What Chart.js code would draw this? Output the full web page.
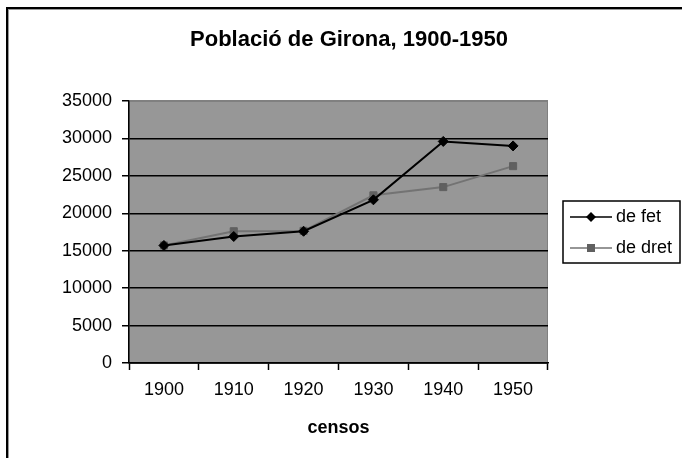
<!DOCTYPE html>
<html lang="ca">
<head>
<meta charset="UTF-8">
<title>Població de Girona, 1900-1950</title>
<style>
  body { margin: 0; background: #fff; }
  .frame {
    position: absolute; left: 0; top: 0; width: 682px; height: 458px;
  }
  .edge {
    position: absolute; left: 6px; top: 7px; right: 0; bottom: 0;
    border-left: 2px solid #000; border-top: 2px solid #000;
    box-shadow: inset 1px 1px 0 #999;
    pointer-events: none;
  }
</style>
</head>
<body>
<div class="frame">
  <canvas id="chart" width="682" height="458"></canvas>
  <div class="edge"></div>
</div>
<script src="https://cdn.jsdelivr.net/npm/chart.js"></script>
<script>
// census years and population
const years = ['1900', '1910', '1920', '1930', '1940', '1950'];
const deFet = [15700, 16900, 17600, 21800, 29600, 29000];
const deDret = [15700, 17600, 17650, 22400, 23500, 26300];
const seriesNames = ['de fet', 'de dret'];
const chartTitle = 'Població de Girona, 1900-1950';
const yMax = 35000;

const FONT = 'Arial, "Liberation Sans", sans-serif';

// title centred on the whole frame, not just the plot
const frameTitle = {
  id: 'frameTitle',
  afterDraw(chart) {
    const ctx = chart.ctx;
    ctx.save();
    ctx.font = 'bold 22px ' + FONT;
    ctx.fillStyle = '#000';
    ctx.textAlign = 'center';
    ctx.textBaseline = 'middle';
    ctx.fillText(chartTitle, 349, 40);
    ctx.restore();
  }
};

// boxed legend on the right, like the old spreadsheet chart
const boxLegend = {
  id: 'boxLegend',
  afterDraw(chart) {
    const ctx = chart.ctx;
    const x = 563, y = 201, w = 117, h = 62;
    ctx.save();
    ctx.strokeStyle = '#000';
    ctx.lineWidth = 1.5;
    ctx.strokeRect(x, y, w, h);
    ctx.font = '18px ' + FONT;
    ctx.textBaseline = 'middle';
    chart.data.datasets.forEach((ds, i) => {
      const cy = y + 16 + i * 31;
      ctx.strokeStyle = ds.borderColor;
      ctx.lineWidth = 1.5;
      ctx.beginPath();
      ctx.moveTo(x + 7, cy);
      ctx.lineTo(x + 49, cy);
      ctx.stroke();
      ctx.fillStyle = ds.pointBackgroundColor;
      ctx.beginPath();
      if (ds.pointStyle === 'rectRot') {
        ctx.moveTo(x + 28, cy - 5);
        ctx.lineTo(x + 33, cy);
        ctx.lineTo(x + 28, cy + 5);
        ctx.lineTo(x + 23, cy);
        ctx.closePath();
      } else {
        ctx.rect(x + 24, cy - 4, 8, 8);
      }
      ctx.fill();
      ctx.fillStyle = '#000';
      ctx.fillText(ds.label, x + 53, cy);
    });
    ctx.restore();
  }
};

// gray plot background
const plotBg = {
  id: 'plotBg',
  beforeDraw(chart) {
    const a = chart.chartArea;
    const ctx = chart.ctx;
    ctx.save();
    ctx.fillStyle = '#979797';
    ctx.fillRect(a.left, a.top, a.right - a.left, a.bottom - a.top);
    ctx.strokeStyle = '#808080';
    ctx.lineWidth = 1;
    ctx.strokeRect(a.left + 0.5, a.top + 0.5, a.right - a.left - 1, a.bottom - a.top);
    ctx.restore();
  }
};

new Chart(document.getElementById('chart'), {
  type: 'line',
  data: {
    labels: years,
    datasets: [{
      label: seriesNames[0],
      data: deFet,
      borderColor: '#000000',
      borderWidth: 2,
      pointStyle: 'rectRot',
      pointRadius: 5,
      pointBackgroundColor: '#000000',
      pointBorderColor: '#000000',
      pointBorderWidth: 1,
      tension: 0
    }, {
      label: seriesNames[1],
      data: deDret,
      borderColor: '#737373',
      borderWidth: 2,
      pointStyle: 'rect',
      pointRadius: 5,
      pointBackgroundColor: '#606060',
      pointBorderColor: '#606060',
      pointBorderWidth: 1,
      tension: 0
    }]
  },
  options: {
    responsive: false,
    animation: false,
    layout: { padding: { left: 0, right: 134, top: 101, bottom: 0 } },
    plugins: {
      legend: { display: false },
      tooltip: { enabled: false },
      title: { display: false }
    },
    scales: {
      x: {
        offset: true,
        grid: {
          offset: true,
          drawOnChartArea: false,
          color: '#000',
          tickLength: 7,
          tickWidth: 1.5
        },
        border: { color: '#000', width: 1.5 },
        ticks: { color: '#000', font: { family: FONT, size: 18 }, padding: 9 },
        title: {
          display: true,
          text: 'censos',
          color: '#000',
          font: { family: FONT, size: 18, weight: 'bold' },
          padding: { top: 0, bottom: 19 }
        },
        afterFit(scale) { scale.height = 95; }
      },
      y: {
        min: 0,
        max: yMax,
        grid: {
          // top edge of the plot is the light frame, not a black gridline
          color: (c) => (c.tick && c.tick.value === yMax ? '#808080' : '#000'),
          tickColor: '#000',
          lineWidth: 1.5,
          tickLength: 7
        },
        border: { color: '#000', width: 1.5 },
        ticks: {
          stepSize: 5000,
          color: '#000',
          font: { family: FONT, size: 18 },
          padding: 10,
          callback: (v) => String(v)
        },
        afterFit(scale) { scale.width = 129; }
      }
    }
  },
  plugins: [plotBg, boxLegend, frameTitle]
});
</script>
</body>
</html>
